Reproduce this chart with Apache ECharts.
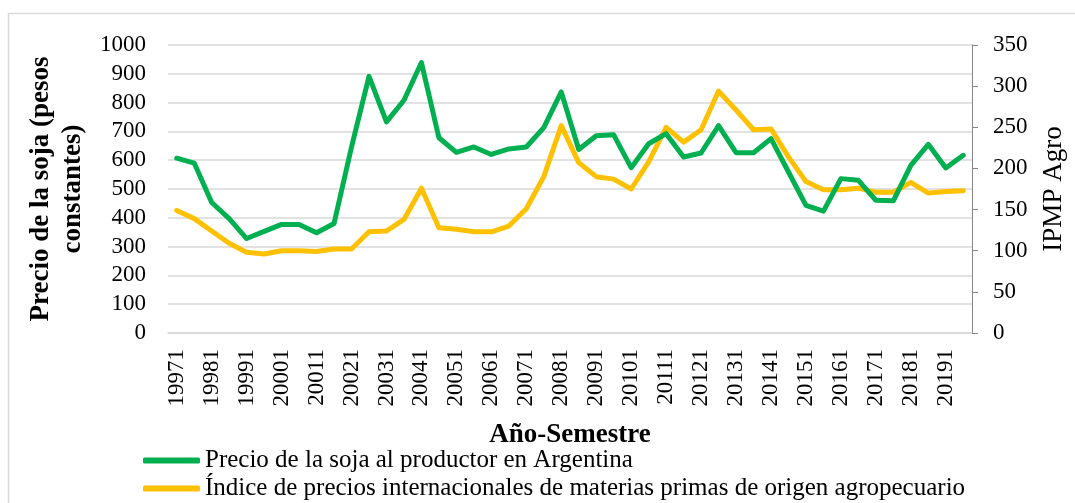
<!DOCTYPE html>
<html>
<head>
<meta charset="utf-8">
<script src="https://cdn.jsdelivr.net/npm/echarts@6/dist/echarts.min.js"></script>
<style>
  html, body { margin: 0; padding: 0; background: #fff; }
  #chart { width: 1075px; height: 503px; }
</style>
</head>
<body>
<div id="chart"></div>
<script>
// semestres (año + semestre)
const semestres = [
  "19971","19972","19981","19982","19991","19992","20001","20002","20011","20012",
  "20021","20022","20031","20032","20041","20042","20051","20052","20061","20062",
  "20071","20072","20081","20082","20091","20092","20101","20102","20111","20112",
  "20121","20122","20131","20132","20141","20142","20151","20152","20161","20162",
  "20171","20172","20181","20182","20191","20192"
];
// precio de la soja al productor (pesos constantes)
const precioSoja = [
  607, 590, 453, 397, 328, 353, 377, 377, 348, 380,
  646, 891, 733, 808, 939, 678, 627, 646, 620, 639,
  646, 713, 837, 637, 685, 688, 574, 657, 692, 611,
  625, 720, 626, 626, 675, 559, 443, 423, 536, 530,
  461, 459, 582, 655, 573, 617
];
// IPMP Agro
const ipmpAgro = [
  149, 139, 124, 109, 98, 96, 100, 100, 99, 102,
  102, 123, 124, 138, 176, 128, 126, 123, 123, 130,
  151, 190, 252, 207, 190, 187, 175, 208, 250, 232,
  247, 294, 271, 247, 248, 214, 184, 174, 174, 176,
  171, 171, 183, 170, 172, 173
];
const nombres = [
  "Precio de la soja al productor en Argentina",
  "Índice de precios internacionales de materias primas de origen agropecuario"
];

const fuente = '"Liberation Serif", "Times New Roman", serif';
let myChart = echarts.init(document.getElementById("chart"));

let option = {
  animation: false,
  textStyle: { fontFamily: fuente, color: "#000" },
  graphic: [{
    type: "rect",
    shape: { x: 8.5, y: 13.5, width: 2000, height: 2000 },
    style: { fill: "none", stroke: "#d9d9d9", lineWidth: 1.5 }
  }],
  grid: { left: 168, right: 103, top: 45, bottom: 170 },
  legend: {
    orient: "vertical",
    left: 143,
    top: 448,
    padding: 0,
    itemWidth: 57,
    itemHeight: 6,
    itemGap: 3,
    icon: "roundRect",
    textStyle: { fontFamily: fuente, fontSize: 25, color: "#000", lineHeight: 24, padding: [0, 0, 0, 0] },
    data: nombres
  },
  xAxis: {
    type: "category",
    data: semestres,
    boundaryGap: true,
    name: "Año-Semestre",
    nameLocation: "middle",
    nameGap: 89,
    nameTextStyle: { fontFamily: fuente, fontWeight: "bold", fontSize: 27, color: "#000" },
    axisLine: { lineStyle: { color: "#d9d9d9", width: 1.5 } },
    axisTick: { show: false },
    axisLabel: { interval: 1, rotate: 90, margin: 16, fontSize: 23, color: "#000", fontFamily: fuente }
  },
  yAxis: [
    {
      type: "value",
      min: 0, max: 1000, interval: 100,
      name: "Precio de la soja (pesos\nconstantes)",
      nameLocation: "middle",
      nameGap: 64,
      nameTextStyle: { fontFamily: fuente, fontWeight: "bold", fontSize: 27, color: "#000", lineHeight: 32 },
      axisLine: { show: false },
      axisTick: { show: false },
      axisLabel: { margin: 22, fontSize: 23, color: "#000", fontFamily: fuente, formatter: (v) => String(v) },
      splitLine: { lineStyle: { color: "#d9d9d9", width: 1.5 } }
    },
    {
      type: "value",
      min: 0, max: 350, interval: 50,
      name: "IPMP Agro",
      nameLocation: "middle",
      nameGap: 68,
      nameTextStyle: { fontFamily: fuente, fontSize: 27, color: "#000" },
      axisLine: { show: true, lineStyle: { color: "#868686", width: 1 } },
      axisTick: { show: true, length: 6, lineStyle: { color: "#868686" } },
      axisLabel: { margin: 21, fontSize: 23, color: "#000", fontFamily: fuente },
      splitLine: { show: false }
    }
  ],
  series: [
    {
      name: nombres[0],
      type: "line",
      yAxisIndex: 0,
      data: precioSoja,
      showSymbol: false,
      symbol: "none",
      itemStyle: { color: "#00b050" },
      lineStyle: { color: "#00b050", width: 5, cap: "round", join: "round" },
      z: 3
    },
    {
      name: nombres[1],
      type: "line",
      yAxisIndex: 1,
      data: ipmpAgro,
      showSymbol: false,
      symbol: "none",
      itemStyle: { color: "#ffc000" },
      lineStyle: { color: "#ffc000", width: 5, cap: "round", join: "round" },
      z: 2
    }
  ]
};
myChart.setOption(option);
window.addEventListener("resize", function() {
  myChart.resize();
});
</script>
</body>
</html>
